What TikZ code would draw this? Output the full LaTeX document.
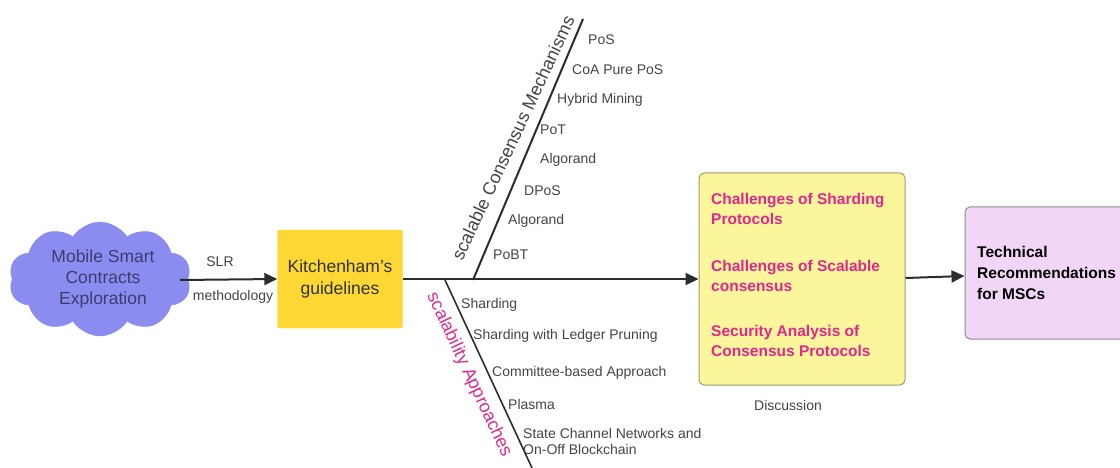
\documentclass[tikz,border=0pt]{standalone}
\usepackage{fontspec}
\setmainfont{Liberation Sans}
\usetikzlibrary{arrows.meta,shapes.symbols}
\definecolor{cloudc}{HTML}{8C8CF0}
\definecolor{cloudt}{HTML}{3C3C70}
\definecolor{kitc}{HTML}{FDD835}
\definecolor{discc}{HTML}{FBF59C}
\definecolor{discb}{HTML}{9C9C70}
\definecolor{recc}{HTML}{F1D6F8}
\definecolor{recb}{HTML}{8C8C8C}
\definecolor{mag}{HTML}{E0288C}
\definecolor{linec}{HTML}{2C2C2C}
\definecolor{itemc}{HTML}{444444}
\tikzset{
  lbl/.style={font=\fontsize{14}{16}\selectfont, text=itemc, inner sep=0pt},
  item/.style={lbl, anchor=west},
  conn/.style={draw=linec, line width=2pt},
  arr/.style={conn, -{Triangle[length=13pt,width=12pt]}},
  magt/.style={font=\fontsize{15.5}{20}\selectfont\bfseries, text=mag, anchor=west, inner sep=0pt},
  branchlbl/.style={font=\fontsize{18}{20}\selectfont, inner sep=0pt},
}
\begin{document}
\begin{tikzpicture}[x=1pt,y=-1pt]
\useasboundingbox (0,0) rectangle (1120,468);
% cloud
\node[cloud, cloud puffs=10, cloud puff arc=115, aspect=1.6, fill=cloudc, draw=cloudc,
  minimum width=182pt, minimum height=114pt, inner sep=0pt] (cloud) at (100,279) {};
\node[font=\fontsize{17.5}{21}\selectfont, text=cloudt, align=center] (cloudtxt) at (103,279)
  {Mobile Smart\\Contracts\\Exploration};
% Kitchenham
\node[fill=kitc, draw=kitc, rounded corners=2pt, minimum width=125pt, minimum height=98pt,
  font=\fontsize{17.5}{22}\selectfont, text=black!80, align=center] (kit) at (340,279)
  {Kitchenham's\\guidelines};
\draw[arr] (cloud.east |- 0,280) ++(-8,0) coordinate (cE) -- (kit.west);
\node[lbl] (slr) at (220,262) {SLR};
\node[lbl] (meth) at (233,297) {methodology};
% Discussion box
\node[fill=discc, draw=discb, line width=1pt, rounded corners=5pt, minimum width=206pt,
  minimum height=212pt, inner sep=0pt] (disc) at (802,279) {};
\node[magt] (c1) at (711,210) {\begin{tabular}{@{}l@{}}Challenges of Sharding\\Protocols\end{tabular}};
\node[magt] (c2) at (711,277) {\begin{tabular}{@{}l@{}}Challenges of Scalable\\consensus\end{tabular}};
\node[magt] (c3) at (711,342) {\begin{tabular}{@{}l@{}}Security Analysis of\\Consensus Protocols\end{tabular}};
\node[lbl] (dlab) at (788,405) {Discussion};
% Spine
\draw[arr] (kit.east) -- (disc.west |- kit.east);
% Recommendations box
\node[fill=recc, draw=recb, line width=1pt, rounded corners=5pt, minimum width=180pt,
  minimum height=132pt, inner sep=0pt] (rec) at (1055,273) {};
\node[font=\fontsize{15.5}{21}\selectfont\bfseries, text=black, anchor=west, align=left, inner sep=0pt]
  (rectxt) at (977,273) {Technical\\Recommendations\\for MSCs};
\draw[arr] (disc.east |- 0,278) -- (rec.west |- 0,276);
% Upper branch
\coordinate (u0) at (473,280);
\coordinate (u1) at (583,19);
\draw[conn] (u0) -- (u1);
\node[branchlbl, text=itemc, rotate=65] (ulab) at (513,138)
  {scalable Consensus Mechanisms};
\node[item] (i1) at (588,40) {PoS};
\node[item] (i2) at (572,70) {CoA Pure PoS};
\node[item] (i3) at (557,100) {Hybrid Mining};
\node[item] (i4) at (540,130) {PoT};
\node[item] (i5) at (540,160) {Algorand};
\node[item] (i6) at (524,191) {DPoS};
\node[item] (i7) at (508,221) {Algorand};
\node[item] (i8) at (493,255) {PoBT};
% Lower branch
\coordinate (l0) at (445,280);
\coordinate (l1) at (532,468);
\draw[conn, line width=1.6pt] (l0) -- (l1);
\node[branchlbl, text=mag, rotate=-65] (llab) at (469,375)
  {scalability Approaches};
\node[item] (j1) at (461,305) {Sharding};
\node[item] (j2) at (473,336) {Sharding with Ledger Pruning};
\node[item] (j3) at (492,373) {Committee-based Approach};
\node[item] (j4) at (508,404) {Plasma};
\node[item, align=left] (j5) at (523,441) {State Channel Networks and\\On-Off Blockchain};
\end{tikzpicture}
\end{document}
